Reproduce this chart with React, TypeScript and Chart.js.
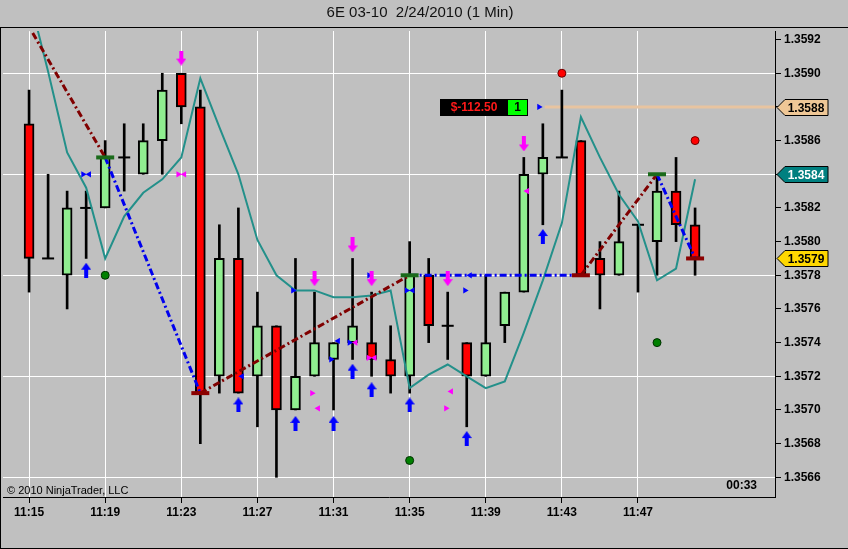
import { useEffect, useRef } from "react";
import Chart from "chart.js/auto";

// 6E 03-10, 1 minute bars. x = minute of the 11 o'clock hour
const chartTitle = "6E 03-10  2/24/2010 (1 Min)";

const barTimes = [
  15, 16, 17, 18, 19, 20, 21, 22, 23, 24, 25, 26, 27, 28, 29, 30, 31, 32,
  33, 34, 35, 36, 37, 38, 39, 40, 41, 42, 43, 44, 45, 46, 47, 48, 49, 50,
];
const opens = [
  1.3587, 1.3579, 1.3578, 1.3582, 1.3582, 1.3585, 1.3584, 1.3586, 1.359, 1.3588, 1.3572, 1.3579,
  1.3572, 1.3575, 1.357, 1.3572, 1.3573, 1.3574, 1.3574, 1.3573, 1.3572, 1.3578, 1.3575, 1.3574,
  1.3572, 1.3575, 1.3577, 1.3584, 1.3585, 1.3586, 1.3579, 1.3578, 1.3581, 1.358, 1.3583, 1.3581,
];
const highs = [
  1.3589, 1.3584, 1.3583, 1.3583, 1.3586, 1.3587, 1.3587, 1.359, 1.359, 1.3589, 1.3581, 1.3582,
  1.3577, 1.3575, 1.3579, 1.3577, 1.3574, 1.3579, 1.3577, 1.3575, 1.358, 1.3579, 1.3577, 1.3574,
  1.3578, 1.3577, 1.3585, 1.3587, 1.3589, 1.3586, 1.358, 1.3583, 1.3581, 1.3584, 1.3585, 1.3582,
];
const lows = [
  1.3577, 1.3579, 1.3576, 1.3579, 1.3582, 1.3583, 1.3584, 1.3584, 1.3587, 1.3568, 1.3571, 1.3571,
  1.3569, 1.3566, 1.357, 1.3572, 1.357, 1.3573, 1.3572, 1.3571, 1.3571, 1.3574, 1.3573, 1.3569,
  1.3572, 1.3574, 1.3577, 1.3581, 1.3585, 1.3578, 1.3576, 1.3578, 1.3577, 1.3578, 1.358, 1.3578,
];
const closes = [
  1.3579, 1.3579, 1.3582, 1.3582, 1.3585, 1.3585, 1.3586, 1.3589, 1.3588, 1.3571, 1.3579, 1.3571,
  1.3575, 1.357, 1.3572, 1.3574, 1.3574, 1.3575, 1.3573, 1.3572, 1.3578, 1.3575, 1.3575, 1.3572,
  1.3574, 1.3577, 1.3584, 1.3585, 1.3585, 1.3578, 1.3578, 1.358, 1.3581, 1.3583, 1.3581, 1.3579,
];

// teal indicator line, one value per bar
const tealLine = [
  1.35946, 1.35901, 1.35853, 1.35832, 1.3579, 1.35815, 1.35829, 1.35837, 1.3585, 1.35897, 1.35868, 1.3584,
  1.35801, 1.3578, 1.35771, 1.35771, 1.35767, 1.35767, 1.35768, 1.35771, 1.35713, 1.35721, 1.35727, 1.3572,
  1.35713, 1.35717, 1.35746, 1.35777, 1.35811, 1.35874, 1.3585, 1.35828, 1.35812, 1.35777, 1.35784, 1.35837,
];

// zigzag swings (segments alternate dark red / blue)
const zigzagTimes = [14, 19, 24, 35, 44, 48, 50];
const zigzagPrices = [1.35947, 1.3585, 1.3571, 1.3578, 1.3578, 1.3584, 1.3579];

const swingHighs = [[19, 1.3585], [35, 1.3578], [48, 1.3584]];
const swingLows = [[24, 1.3571], [44, 1.3578], [50, 1.3579]];

const redDots = [[43, 1.359], [50, 1.3586]];
const greenDots = [[19, 1.3578], [35, 1.3567], [48, 1.3574]];

const downArrows = [[23, 1.35909], [30, 1.35778], [32, 1.35798], [33, 1.35778], [37, 1.35778], [41, 1.35858]];
const upArrows = [
  [18, 1.35783], [26, 1.35703], [29, 1.35692], [31, 1.35692], [32, 1.35723],
  [33, 1.35712], [35, 1.35703], [38, 1.35683], [42, 1.35803],
];

const blueRight = [
  [17.84, 1.3584], [28.87, 1.35771], [30.87, 1.3573], [31.84, 1.3574],
  [32.87, 1.3578], [34.84, 1.35771], [37.91, 1.35771], [41.8, 1.3588],
];
const blueLeft = [[18.16, 1.3584], [31.24, 1.35741], [35.16, 1.35771], [38.17, 1.3578], [26.19, 1.3572]];
const magentaRight = [[22.84, 1.3584], [29.87, 1.3571], [32.84, 1.35731], [36.91, 1.35701]];
const magentaLeft = [[23.16, 1.3584], [30.19, 1.35701], [32.16, 1.3574], [33.16, 1.35731], [37.18, 1.35711], [41.17, 1.3583]];

// open position
const positionPrice = 1.3588;
const positionStart = 42.1;
const positionEntry = 41.8;
const positionPnl = "$-112.50";
const positionQty = "1";

const priceTicks = [
  1.3566, 1.3568, 1.357, 1.3572, 1.3574, 1.3576, 1.3578, 1.358, 1.3582, 1.3584, 1.3586, 1.3588, 1.359, 1.3592,
];
const gridPrices = [1.3566, 1.3572, 1.3578, 1.3584, 1.359];
const timeTicks = [15, 19, 23, 27, 31, 35, 39, 43, 47];

const priceTags = [
  { price: 1.3588, fill: "#efc796", text: "#000" },
  { price: 1.3584, fill: "#008080", text: "#fff" },
  { price: 1.3579, fill: "#ffd800", text: "#000" },
];

const FONT = "'Liberation Sans', Arial, sans-serif";

const pts = (list: number[][]) => list.map(([x, y]) => ({ x, y }));

function makeArrow(color: string, up: boolean) {
  const c = document.createElement("canvas");
  c.width = 10;
  c.height = 15;
  const g = c.getContext("2d")!;
  g.fillStyle = color;
  g.beginPath();
  if (up) {
    g.moveTo(5, 0);
    g.lineTo(10, 7);
    g.lineTo(7, 7);
    g.lineTo(7, 15);
    g.lineTo(3, 15);
    g.lineTo(3, 7);
    g.lineTo(0, 7);
  } else {
    g.moveTo(5, 15);
    g.lineTo(10, 8);
    g.lineTo(7, 8);
    g.lineTo(7, 0);
    g.lineTo(3, 0);
    g.lineTo(3, 8);
    g.lineTo(0, 8);
  }
  g.closePath();
  g.fill();
  return c;
}

const ninjaFrame = {
  id: "ninjaFrame",
  beforeDraw(chart: any) {
    const { ctx, width, height } = chart;
    ctx.save();
    ctx.fillStyle = "#c0c0c0";
    ctx.fillRect(0, 0, width, height);
    ctx.fillStyle = "#111";
    ctx.font = `15px ${FONT}`;
    ctx.textAlign = "center";
    ctx.textBaseline = "middle";
    ctx.fillText(chartTitle, width / 2 - 4, 13);
    ctx.strokeStyle = "#000";
    ctx.lineWidth = 1;
    ctx.beginPath();
    ctx.moveTo(0, 27.5);
    ctx.lineTo(width, 27.5);
    ctx.moveTo(0.5, 27);
    ctx.lineTo(0.5, height);
    ctx.moveTo(0, height - 0.5);
    ctx.lineTo(width, height - 0.5);
    ctx.stroke();
    ctx.restore();
  },
  afterDraw(chart: any) {
    const { ctx, chartArea } = chart;
    const xs = chart.scales.x;
    const ys = chart.scales.y;
    ctx.save();

    // price tags on the axis
    ctx.font = `bold 12px ${FONT}`;
    ctx.textAlign = "center";
    ctx.textBaseline = "middle";
    for (const tag of priceTags) {
      const y = Math.round(ys.getPixelForValue(tag.price)) + 0.5;
      const x0 = chartArea.right + 2;
      ctx.beginPath();
      ctx.moveTo(x0, y);
      ctx.lineTo(x0 + 8, y - 8);
      ctx.lineTo(x0 + 51, y - 8);
      ctx.lineTo(x0 + 51, y + 8);
      ctx.lineTo(x0 + 8, y + 8);
      ctx.closePath();
      ctx.fillStyle = tag.fill;
      ctx.fill();
      ctx.strokeStyle = "#000";
      ctx.lineWidth = 1;
      ctx.stroke();
      ctx.fillStyle = tag.text;
      ctx.fillText(tag.price.toFixed(4), x0 + 29, y + 1);
    }

    // position PnL box
    const py = Math.round(ys.getPixelForValue(positionPrice));
    const right = Math.round(xs.getPixelForValue(positionEntry)) - 11;
    ctx.fillStyle = "#000";
    ctx.fillRect(right - 88, py - 8, 68, 17);
    ctx.fillStyle = "#00ff00";
    ctx.fillRect(right - 21, py - 8, 21, 17);
    ctx.strokeStyle = "#000";
    ctx.strokeRect(right - 20.5, py - 7.5, 20, 16);
    ctx.font = `bold 12px ${FONT}`;
    ctx.fillStyle = "#ff1a1a";
    ctx.fillText(positionPnl, right - 54, py + 1);
    ctx.fillStyle = "#000";
    ctx.fillText(positionQty, right - 10.5, py + 1);

    // copyright + bar timer
    ctx.textBaseline = "alphabetic";
    ctx.textAlign = "left";
    ctx.font = `11px ${FONT}`;
    ctx.fillStyle = "#000";
    ctx.fillText("\u00a9 2010 NinjaTrader, LLC", chartArea.left + 4, chartArea.bottom - 3);
    ctx.textAlign = "right";
    ctx.font = `bold 12px ${FONT}`;
    ctx.fillText("00:33", chartArea.right - 18, chartArea.bottom - 8);
    ctx.restore();
  },
};

const App = () => {
  const chartRef = useRef<HTMLCanvasElement>(null);

  useEffect(() => {
    if (!chartRef.current) return;
    document.body.style.margin = "0";
    document.body.style.overflow = "hidden";

    const upArrow = makeArrow("#0000ff", true);
    const downArrow = makeArrow("#ff00ff", false);

    const wicks = barTimes.map((t, i) => ({ x: t, y: [lows[i], highs[i]] }));
    const bodyIdx = barTimes.map((_, i) => i).filter((i) => opens[i] !== closes[i]);
    const bodies = bodyIdx.map((i) => ({ x: barTimes[i], y: [opens[i], closes[i]] }));
    const bodyColors = bodyIdx.map((i) => (closes[i] > opens[i] ? "#90ee90" : "#ff0000"));
    const dojis = barTimes
      .map((t, i) => ({ x: t, y: opens[i], flat: opens[i] === closes[i] }))
      .filter((d) => d.flat)
      .map(({ x, y }) => ({ x, y }));

    const zigColors = ["#800000", "#0000ee"];

    const triangle = (data: number[][], rotation: number, color: string, order: number) => ({
      type: "scatter",
      data: pts(data),
      pointStyle: "triangle",
      pointRotation: rotation,
      pointRadius: 3.6,
      backgroundColor: color,
      borderWidth: 0,
      order,
    });

    const chart = new Chart(chartRef.current, {
      type: "bar",
      data: {
        datasets: [
          {
            type: "line",
            data: [{ x: positionStart, y: positionPrice }, { x: 60, y: positionPrice }],
            borderColor: "#e8c4a0",
            borderWidth: 3,
            pointRadius: 0,
            order: 20,
          },
          {
            type: "bar",
            data: wicks as any,
            backgroundColor: "#000",
            barThickness: 2,
            maxBarThickness: 2,
            grouped: false,
            order: 19,
          },
          {
            type: "bar",
            data: bodies as any,
            backgroundColor: bodyColors,
            borderColor: "#000",
            borderWidth: 2,
            borderSkipped: false,
            barThickness: 10,
            maxBarThickness: 10,
            grouped: false,
            order: 18,
          },
          {
            type: "scatter",
            data: dojis,
            pointStyle: "line",
            pointRadius: 6,
            borderColor: "#000",
            borderWidth: 2,
            order: 17,
          },
          {
            type: "line",
            data: barTimes.map((t, i) => ({ x: t, y: tealLine[i] })),
            borderColor: "#23908a",
            borderWidth: 2,
            pointRadius: 0,
            tension: 0,
            clip: 0,
            order: 16,
          },
          {
            type: "line",
            data: zigzagTimes.map((t, i) => ({ x: t, y: zigzagPrices[i] })),
            borderWidth: 3,
            borderColor: zigColors[0],
            borderDash: [7, 3, 2, 3],
            segment: {
              borderColor: (c: any) => zigColors[c.p0DataIndex % 2],
            },
            pointRadius: 0,
            tension: 0,
            clip: 0,
            order: 15,
          },
          {
            type: "scatter",
            data: pts(swingHighs),
            pointStyle: "line",
            pointRadius: 9,
            borderColor: "#1a6a1a",
            borderWidth: 4,
            order: 14,
          },
          {
            type: "scatter",
            data: pts(swingLows),
            pointStyle: "line",
            pointRadius: 9,
            borderColor: "#8b0000",
            borderWidth: 4,
            order: 13,
          },
          {
            type: "scatter",
            data: pts(redDots),
            pointRadius: 4,
            backgroundColor: "#ff0000",
            borderColor: "#700000",
            borderWidth: 1,
            order: 12,
          },
          {
            type: "scatter",
            data: pts(greenDots),
            pointRadius: 4,
            backgroundColor: "#008000",
            borderColor: "#003000",
            borderWidth: 1,
            order: 11,
          },
          triangle(blueRight, 90, "#0000ff", 10),
          triangle(blueLeft, -90, "#0000ff", 9),
          triangle(magentaRight, 90, "#ff00ff", 8),
          triangle(magentaLeft, -90, "#ff00ff", 7),
          {
            type: "scatter",
            data: pts(upArrows),
            pointStyle: upArrow,
            order: 6,
          },
          {
            type: "scatter",
            data: pts(downArrows),
            pointStyle: downArrow,
            order: 5,
          },
        ] as any,
      },
      options: {
        animation: false,
        responsive: true,
        maintainAspectRatio: false,
        events: [],
        layout: { autoPadding: false, padding: { top: 31, left: 3, right: 0, bottom: 0 } },
        plugins: {
          legend: { display: false },
          title: { display: false },
          tooltip: { enabled: false },
        },
        scales: {
          x: {
            type: "linear",
            min: 13.63,
            max: 54.2,
            offset: false,
            afterFit: (s: any) => {
              s.height = 52;
              s.paddingLeft = 0;
              s.paddingRight = 0;
            },
            afterBuildTicks: (s: any) => {
              s.ticks = timeTicks.map((v) => ({ value: v }));
            },
            grid: {
              offset: false,
              color: "#ffffff",
              lineWidth: 1,
              tickColor: "#000",
              tickLength: 6,
            },
            border: { display: true, color: "#000", width: 1 },
            ticks: {
              autoSkip: false,
              maxRotation: 0,
              padding: 2,
              color: "#000",
              font: { family: FONT, size: 12, weight: "bold" },
              callback: (v: any) => `11:${v}`,
            },
          },
          y: {
            type: "linear",
            position: "right",
            min: 1.356483,
            max: 1.359251,
            afterFit: (s: any) => {
              s.width = 73;
              s.paddingTop = 0;
              s.paddingBottom = 0;
            },
            afterBuildTicks: (s: any) => {
              s.ticks = priceTicks.map((v) => ({ value: v }));
            },
            grid: {
              color: (c: any) =>
                gridPrices.some((p) => Math.abs(p - c.tick?.value) < 1e-7) ? "#ffffff" : "rgba(0,0,0,0)",
              lineWidth: 1,
              tickColor: "#000",
              tickLength: 6,
            },
            border: { display: true, color: "#000", width: 1 },
            ticks: {
              autoSkip: false,
              padding: 3,
              color: "#000",
              font: { family: FONT, size: 12, weight: "bold" },
              callback: (v: any) => Number(v).toFixed(4),
            },
          },
        },
      },
      plugins: [ninjaFrame],
    });

    return () => {
      chart.destroy();
    };
  }, []);

  return (
    <div style={{ width: "848px", height: "549px", background: "#c0c0c0" }}>
      <canvas ref={chartRef} />
    </div>
  );
};

export default App;
